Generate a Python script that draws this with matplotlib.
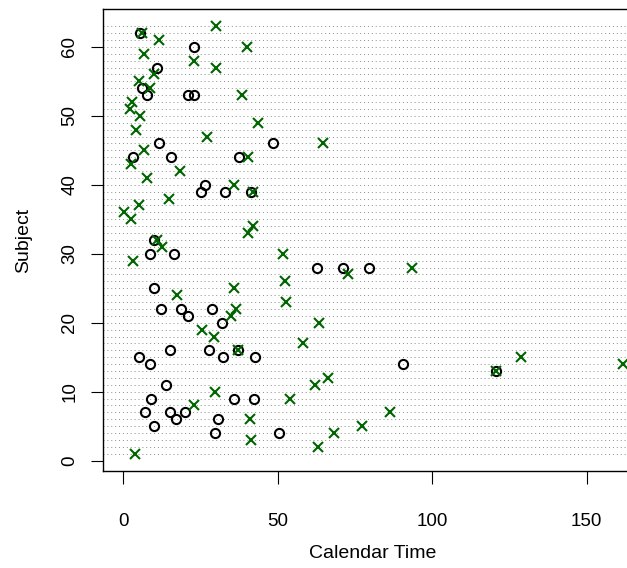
import matplotlib
matplotlib.use("Agg")
import matplotlib.pyplot as plt
import numpy as np

plt.rcParams['font.family'] = ['Liberation Sans', 'DejaVu Sans']

# open circles (black)
circ_subj = [4, 4, 5, 6, 6, 7, 7, 7, 9, 9, 9, 11, 13, 14, 14, 15, 15, 15,
             16, 16, 16, 20, 21, 22, 22, 22, 25, 28, 28, 28, 30, 30, 32,
             39, 39, 39, 40, 44, 44, 44, 46, 46, 53, 53, 53, 54, 57, 60, 62]
circ_time = [29.5, 50.3, 10.0, 17.0, 30.6, 7.1, 15.2, 19.8, 9.0, 35.8, 42.3,
             13.8, 120.6, 8.7, 90.7, 5.2, 32.3, 42.6, 15.2, 27.8, 37.2, 32.0,
             21.0, 12.3, 18.5, 28.7, 9.8, 62.8, 71.0, 79.4, 8.7, 16.5, 9.8,
             25.0, 33.0, 41.4, 26.4, 3.2, 15.5, 37.3, 11.5, 48.5, 7.5, 21.0,
             23.0, 6.0, 11.0, 23.0, 5.5]

# crosses (green)
cross_subj = list(range(1, 64))
cross_time = [3.7, 63.1, 41.2, 68.1, 77.2, 41.0, 86.4, 22.9, 54.0, 29.5,
              62.2, 66.1, 120.6, 161.7, 128.7, 37.2, 58.3, 29.2, 25.4, 63.5,
              34.7, 36.6, 52.6, 17.4, 35.8, 52.3, 72.7, 93.4, 3.2, 51.6,
              12.6, 11.0, 40.4, 42.0, 2.3, 0.3, 5.0, 14.8, 42.0, 35.8,
              7.6, 18.3, 2.3, 40.4, 6.5, 64.7, 27.0, 4.0, 43.5, 5.5,
              2.0, 2.8, 38.5, 8.7, 5.0, 10.0, 30.0, 23.0, 6.5, 40.0,
              11.5, 6.0, 30.0]

fig = plt.figure(figsize=(6.27, 5.68), dpi=100)
ax = fig.add_axes([0.165, 0.171, 0.86, 0.813])

ax.set_xlim(-0.04 * 161.8, 161.7 + 0.04 * 161.8)
ax.set_ylim(1 - 0.04 * 62, 63 + 0.04 * 62)

# dotted line for every subject
for s in range(1, 64):
    ax.axhline(s, color='#8c8c8c', lw=0.7, linestyle=(0, (1, 3)), zorder=1)

ax.plot(circ_time, circ_subj, linestyle='none', marker='o', ms=6.6,
        mfc='none', mec='black', mew=1.5, zorder=3)
ax.plot(cross_time, cross_subj, linestyle='none', marker='x', ms=6.5,
        color='#006400', mew=1.5, zorder=4)

ax.set_xticks([0, 50, 100, 150])
ax.set_yticks([0, 10, 20, 30, 40, 50, 60])
ax.tick_params(axis='both', direction='out', length=9, width=0.8,
               labelsize=13.5)
ax.tick_params(axis='x', pad=21)
ax.tick_params(axis='y', pad=9)
for lab in ax.get_yticklabels():
    lab.set_rotation(90)
    lab.set_va('center')

for side in ['top', 'bottom', 'left', 'right']:
    ax.spines[side].set_linewidth(1.0)

ax.set_xlabel("Calendar Time", fontsize=14, labelpad=11)
ax.set_ylabel("Subject", fontsize=14, labelpad=21)

fig.savefig("out.png", dpi=100)
